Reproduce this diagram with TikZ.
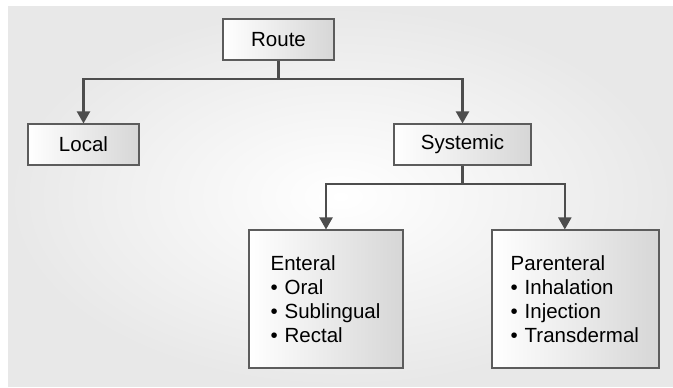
\documentclass[tikz,border=0pt]{standalone}
\usepackage{fontspec}
\setmainfont{Liberation Sans}
\usetikzlibrary{arrows.meta}
\definecolor{edgegray}{HTML}{5C5C5C}
\definecolor{linkgray}{HTML}{4D4D4D}

\begin{document}
\begin{tikzpicture}[
    >={Triangle[length=3.6mm, width=3.9mm]},
    box/.style={draw=edgegray, line width=0.9pt, rectangle, left color=white, right color=black!16, minimum height=1.23cm, minimum width=3.33cm, align=center, font=\fontsize{17.5}{20.5}\selectfont},
    listbox/.style={box, minimum height=4.14cm, align=left},
    link/.style={draw=linkgray, line width=1.8pt}
]
    \useasboundingbox (0,0) rectangle (20.19,-11.61);

    % Background
    \shade[inner color=white, outer color=black!9] (0.24,-0.21) rectangle (20.19,-11.58);

    % Top node
    \node[box] (route) at (8.355,-1.185) {Route};

    % Second level
    \node[box] (local) at (2.505,-4.335) {Local};
    \node[box, minimum width=4.11cm] (sys) at (13.875,-4.335) {Systemic};

    % Third level
    \node[listbox, text width=3.32cm, inner xsep=0.65cm] (ent) at (9.78,-8.97) {Enteral\\\textbullet{} Oral\\\textbullet{} Sublingual\\\textbullet{} Rectal};
    \node[listbox, text width=3.89cm, inner xsep=0.56cm] (par) at (17.265,-8.97) {Parenteral\\\textbullet{} Inhalation\\\textbullet{} Injection\\\textbullet{} Transdermal};

    % Branch points
    \coordinate (split1) at (8.355,-2.37);
    \coordinate (split2) at (13.875,-5.52);

    % Connections from Route
    \draw[link] (route.south) -- (split1);
    \draw[->, link] (split1) -| (local.north);
    \draw[->, link] (split1) -| (sys.north);

    % Connections from Systemic
    \draw[link] (sys.south) -- (split2);
    \draw[->, link] (split2) -| (ent.north);
    \draw[->, link] (split2) -| ([xshift=-3.2mm]par.north);

\end{tikzpicture}
\end{document}
